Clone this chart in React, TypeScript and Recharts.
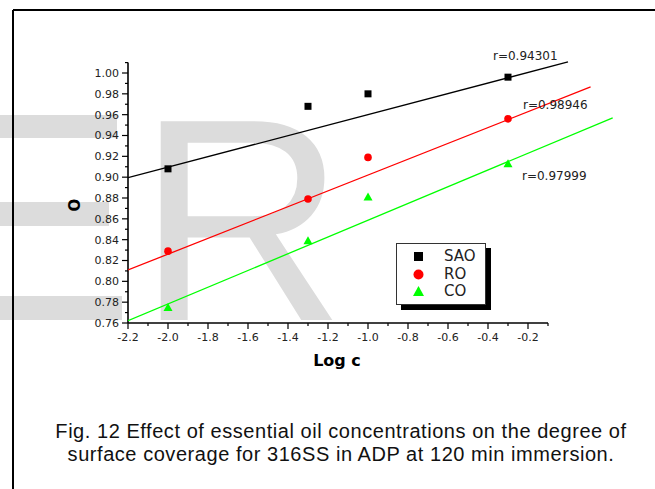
// Surface coverage vs log c — three oils with their linear fits, drawn as
// scatter points + fit segments. Axes are drawn by hand-ish (custom ticks,
// ReferenceLine segments) to get Origin-style major/minor ticks.
import { ComposedChart, Scatter, XAxis, YAxis, ReferenceLine, Legend } from 'recharts';

const logC = [-2.0, -1.3, -1.0, -0.3];
const saoTheta = [0.908, 0.968, 0.98, 0.996];
const roTheta = [0.829, 0.879, 0.919, 0.956];
const coTheta = [0.775, 0.839, 0.881, 0.913];

// fit-line end points
const fitX = { sao: [-2.2, 0.0], ro: [-2.2, 0.113], co: [-2.2, 0.2235] };
const fitY = { sao: [0.8995, 1.0106], ro: [0.8109, 0.9866], co: [0.7622, 0.957] };

const rLabels = ['r=0.94301', 'r=0.98946', 'r=0.97999'];

const xMajor = [-2.2, -2.0, -1.8, -1.6, -1.4, -1.2, -1.0, -0.8, -0.6, -0.4, -0.2];
const xMinor = [-2.1, -1.9, -1.7, -1.5, -1.3, -1.1, -0.9, -0.7, -0.5, -0.3, -0.1];
const yMajor = [0.76, 0.78, 0.8, 0.82, 0.84, 0.86, 0.88, 0.9, 0.92, 0.94, 0.96, 0.98, 1.0];
const yMinor = [0.77, 0.79, 0.81, 0.83, 0.85, 0.87, 0.89, 0.91, 0.93, 0.95, 0.97, 0.99, 1.01];

const FONT = '"DejaVu Sans", sans-serif';
const INK = '#222';

const pts = (ys: number[]) => logC.map((x, i) => ({ x, y: ys[i] }));
const seg = (xs: number[], ys: number[]) => xs.map((x, i) => ({ x, y: ys[i] }));

const isMajor = (v: number, majors: number[]) =>
  majors.some((m) => Math.abs(m - v) < 1e-6);

// x/y coming in are the axis position (tickSize & tickMargin are 0)
function XTick(props: any) {
  const { x, y, payload } = props;
  const major = isMajor(payload.value, xMajor);
  return (
    <g>
      <line x1={x} x2={x} y1={y} y2={y + (major ? 6 : 3)} stroke="#000" strokeWidth={1.2} />
      {major && (
        <text x={x} y={y + 18} textAnchor="middle" fontSize={11} fontFamily={FONT} fill={INK}>
          {payload.value.toFixed(1)}
        </text>
      )}
    </g>
  );
}

function YTick(props: any) {
  const { x, y, payload } = props;
  const major = isMajor(payload.value, yMajor);
  return (
    <g>
      <line x1={x} x2={x - (major ? 6 : 3)} y1={y} y2={y} stroke="#000" strokeWidth={1.2} />
      {major && (
        <text x={x - 9} y={y} dy="0.36em" textAnchor="end" fontSize={11} fontFamily={FONT} fill={INK}>
          {payload.value.toFixed(2)}
        </text>
      )}
    </g>
  );
}

const Square = ({ cx, cy }: any) => <rect x={cx - 3.5} y={cy - 3.5} width={7} height={7} fill="#000" />;
const Dot = ({ cx, cy }: any) => <circle cx={cx} cy={cy} r={3.8} fill="#ff0000" />;
const Tri = ({ cx, cy }: any) => (
  <polygon points={`${cx},${cy - 4.5} ${cx + 4.5},${cy + 3.5} ${cx - 4.5},${cy + 3.5}`} fill="#00ff00" />
);
const NoShape = () => <g />;

const legendRows = [
  { name: 'SAO', marker: <rect x={3} y={3} width={9} height={9} fill="#000" /> },
  { name: 'RO', marker: <circle cx={7.5} cy={7.5} r={5} fill="#ff0000" /> },
  { name: 'CO', marker: <polygon points="7.5,2 13,12 2,12" fill="#00ff00" /> },
];

function LegendBox() {
  return (
    <div
      style={{
        width: 90,
        height: 62,
        border: '1px solid #333',
        background: '#fff',
        boxShadow: '5px 5px 0 #000',
        boxSizing: 'border-box',
        paddingTop: 4,
      }}
    >
      {legendRows.map((r) => (
        <div key={r.name} style={{ display: 'flex', alignItems: 'center', height: 17.5 }}>
          <svg width={15} height={15} style={{ marginLeft: 14 }}>
            {r.marker}
          </svg>
          <span style={{ marginLeft: 18, fontFamily: FONT, fontSize: 15, color: INK, lineHeight: '17px' }}>
            {r.name}
          </span>
        </div>
      ))}
    </div>
  );
}

export default function App() {
  return (
    <div style={{ position: 'absolute', left: 0, top: 0, width: 655, height: 489, background: '#fff', overflow: 'hidden' }}>
      {/* frame + faint watermark behind the plot */}
      <svg width={655} height={489} style={{ position: 'absolute', left: 0, top: 0 }}>
        <rect x={0} y={115} width={117} height={23} fill="#dcdcdc" />
        <rect x={0} y={202} width={109} height={24} fill="#dcdcdc" />
        <rect x={0} y={296} width={122} height={24} fill="#dcdcdc" />
        <text x={137} y={320} fontSize={289} fontFamily='"Liberation Sans", Arial, sans-serif' fill="#dcdcdc">
          R
        </text>
        <line x1={13} y1={10} x2={655} y2={10} stroke="#000" strokeWidth={2} />
        <line x1={13} y1={10} x2={13} y2={489} stroke="#000" strokeWidth={2} />
      </svg>

      <div style={{ position: 'absolute', left: 0, top: 0 }}>
        <ComposedChart width={655} height={489} margin={{ top: 60.5, right: 27, bottom: 165, left: 127 }}>
          <XAxis
            type="number"
            dataKey="x"
            domain={[-2.2, 0.3]}
            allowDataOverflow
            ticks={[...xMajor, ...xMinor]}
            interval={0}
            axisLine={false}
            tickLine={false}
            tickSize={0}
            tickMargin={0}
            height={1}
            tick={(p: any) => <XTick {...p} />}
          />
          <YAxis
            type="number"
            dataKey="y"
            domain={[0.76, 1.012]}
            allowDataOverflow
            ticks={[...yMajor, ...yMinor]}
            interval={0}
            axisLine={false}
            tickLine={false}
            tickSize={0}
            tickMargin={0}
            width={1}
            tick={(p: any) => <YTick {...p} />}
          />
          <ReferenceLine
            segment={[{ x: -2.2, y: 0.76 }, { x: -0.1, y: 0.76 }]}
            stroke="#000"
            strokeWidth={1.6}
            ifOverflow="visible"
          />
          <ReferenceLine
            segment={[{ x: -2.2, y: 0.76 }, { x: -2.2, y: 1.01 }]}
            stroke="#000"
            strokeWidth={1.6}
            ifOverflow="visible"
          />
          <Scatter data={seg(fitX.sao, fitY.sao)} line={{ stroke: '#000', strokeWidth: 1.3 }} shape={NoShape} legendType="none" isAnimationActive={false} />
          <Scatter data={seg(fitX.ro, fitY.ro)} line={{ stroke: '#ff0000', strokeWidth: 1.3 }} shape={NoShape} legendType="none" isAnimationActive={false} />
          <Scatter data={seg(fitX.co, fitY.co)} line={{ stroke: '#00ff00', strokeWidth: 1.3 }} shape={NoShape} legendType="none" isAnimationActive={false} />
          <Scatter name="SAO" data={pts(saoTheta)} shape={Square} isAnimationActive={false} />
          <Scatter name="RO" data={pts(roTheta)} shape={Dot} isAnimationActive={false} />
          <Scatter name="CO" data={pts(coTheta)} shape={Tri} isAnimationActive={false} />
          <Legend
            layout="horizontal"
            verticalAlign="middle"
            align="center"
            content={() => <LegendBox />}
            wrapperStyle={{ left: 396, top: 243, width: 'auto' }}
          />
        </ComposedChart>
      </div>

      {/* annotations and titles */}
      <svg width={655} height={489} style={{ position: 'absolute', left: 0, top: 0, pointerEvents: 'none' }}>
        <text x={493} y={60} fontSize={12} fontFamily={FONT} fill={INK}>{rLabels[0]}</text>
        <text x={523} y={109} fontSize={12} fontFamily={FONT} fill={INK}>{rLabels[1]}</text>
        <text x={522} y={180} fontSize={12} fontFamily={FONT} fill={INK}>{rLabels[2]}</text>
        <text x={337} y={366} textAnchor="middle" fontSize={16} fontWeight="bold" fontFamily={FONT} fill="#000">
          Log c
        </text>
        <text
          x={75}
          y={205}
          textAnchor="middle"
          dy="0.36em"
          fontSize={15}
          fontWeight="bold"
          fontFamily={FONT}
          fill="#000"
          transform="rotate(-90 75 205)"
        >
          O
        </text>
      </svg>

      <div
        style={{
          position: 'absolute',
          left: 27,
          width: 628,
          top: 420,
          textAlign: 'center',
          fontFamily: '"Liberation Sans", Arial, sans-serif',
          fontSize: 20,
          letterSpacing: 0.55,
          lineHeight: '23px',
          color: '#111',
        }}
      >
        Fig. 12 Effect of essential oil concentrations on the degree of
        <br />
        surface coverage for 316SS in ADP at 120 min immersion.
      </div>
    </div>
  );
}
